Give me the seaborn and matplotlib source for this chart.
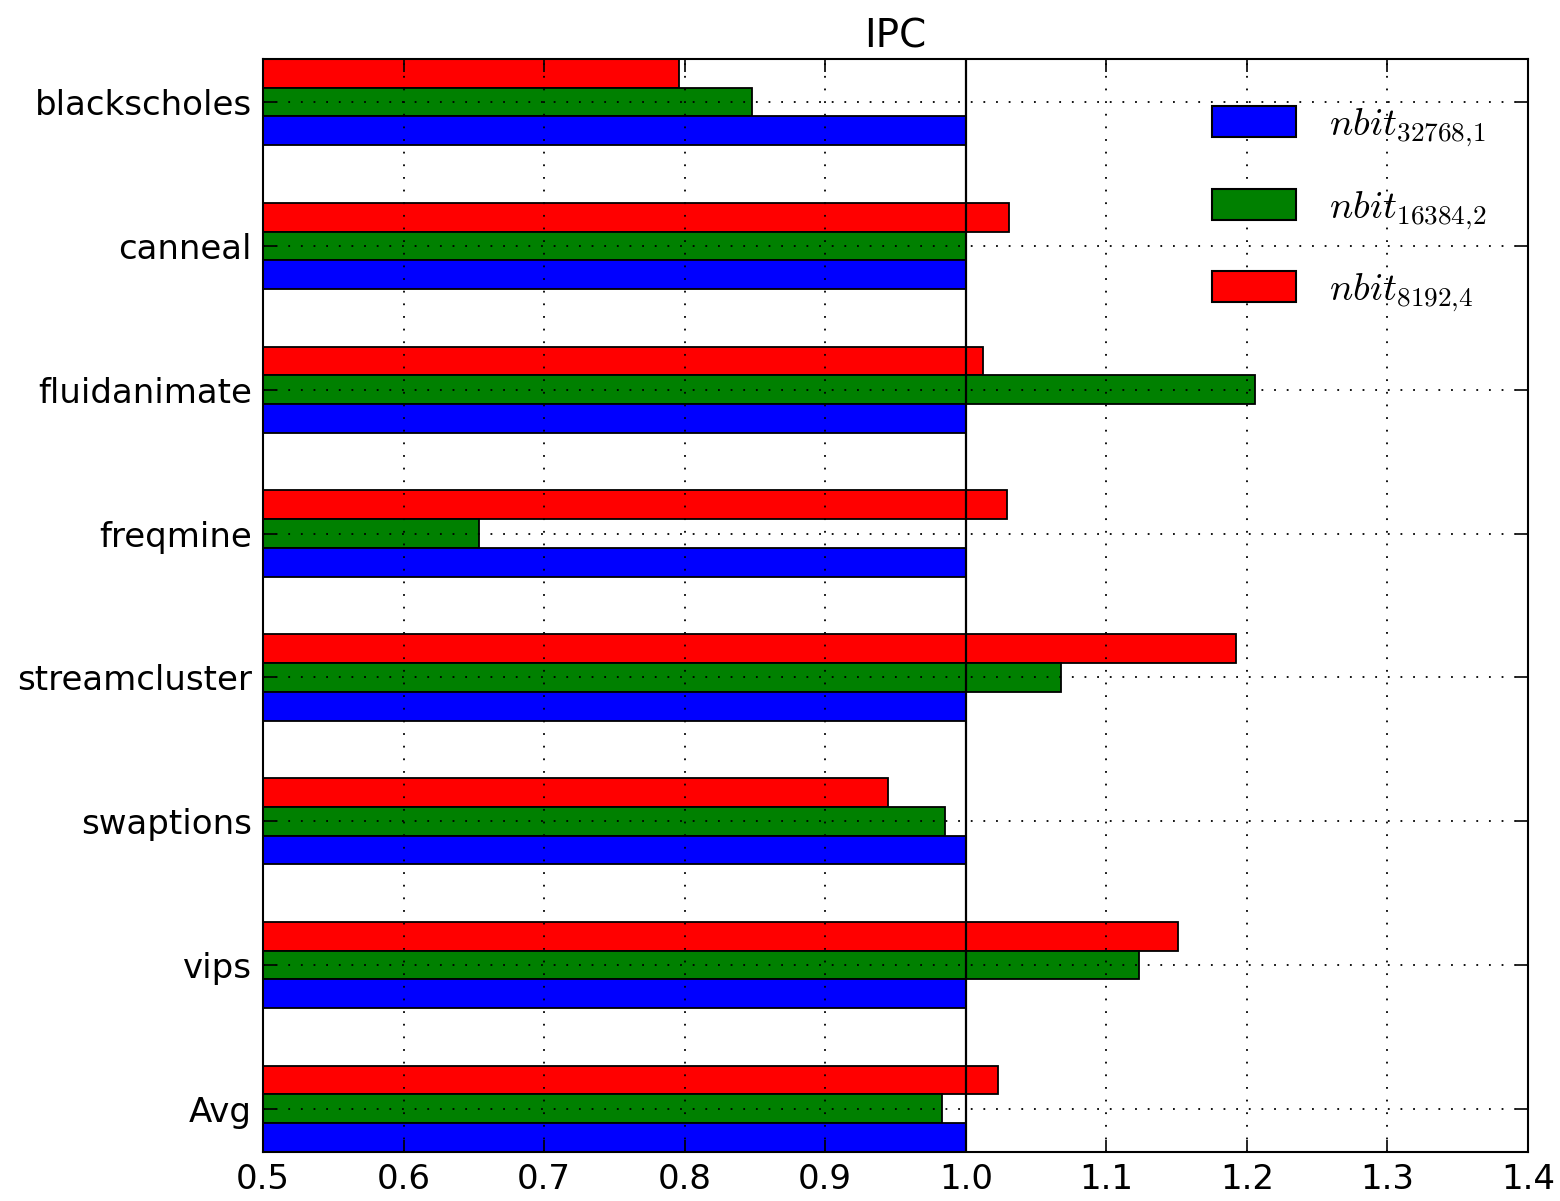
import matplotlib
matplotlib.use("Agg")
import matplotlib.pyplot as plt
import seaborn as sns
import pandas as pd
from matplotlib.patches import Patch

benchmarks = ["blackscholes", "canneal", "fluidanimate", "freqmine",
              "streamcluster", "swaptions", "vips", "Avg"]
ipc_32768_1 = [1.0, 1.0, 1.0, 1.0, 1.0, 1.0, 1.0, 1.0]
ipc_16384_2 = [0.848, 1.0, 1.206, 0.654, 1.068, 0.985, 1.123, 0.983]
ipc_8192_4 = [0.796, 1.031, 1.012, 1.029, 1.192, 0.945, 1.151, 1.023]
series_labels = [r"$nbit_{32768{,}1}$", r"$nbit_{16384{,}2}$", r"$nbit_{8192{,}4}$"]
series_colors = ["#0000ff", "#008000", "#ff0000"]

rows = []
for lab, vals in zip(series_labels, [ipc_32768_1, ipc_16384_2, ipc_8192_4]):
    for b, v in zip(benchmarks, vals):
        rows.append({"bench": b, "ipc": v, "config": lab})
df = pd.DataFrame(rows)

plt.rcParams["font.family"] = ["DejaVu Sans"]
plt.rcParams["mathtext.fontset"] = "cm"

fig = plt.figure(figsize=(15.6, 12.01), dpi=100)
ax = fig.add_axes([0.1686, 0.0408, 0.8109, 0.9101])

hue_order = series_labels[::-1]  # red on top, then green, then blue
pal = dict(zip(series_labels, series_colors))
sns.barplot(data=df, y="bench", x="ipc", hue="config", hue_order=hue_order,
            order=benchmarks, palette=pal, orient="h", width=0.6,
            saturation=1, edgecolor="black", linewidth=1.3, legend=False,
            errorbar=None, ax=ax)

ax.set_xlim(0.5, 1.4)
ax.set_ylim(len(benchmarks) - 0.7, -0.3)
ax.set_xticks([0.5, 0.6, 0.7, 0.8, 0.9, 1.0, 1.1, 1.2, 1.3, 1.4])
ax.set_xticklabels(["0.5", "0.6", "0.7", "0.8", "0.9", "1.0", "1.1", "1.2", "1.3", "1.4"])
ax.set_xlabel("")
ax.set_ylabel("")
ax.axvline(1.0, color="black", linewidth=1.6, zorder=5)
ax.set_axisbelow(False)
ax.grid(True, color="black", linestyle=(0, (1, 6)), linewidth=1.3, zorder=4)

for sp in ax.spines.values():
    sp.set_visible(True)
    sp.set_color("black")
    sp.set_linewidth(1.5)

ax.tick_params(axis="both", direction="in", length=9, width=1.2,
               top=True, right=True, labelsize=24.5, colors="black", pad=8)
ax.tick_params(axis="y", pad=8)
ax.set_title("IPC", fontsize=28, pad=8)

handles = [Patch(facecolor=c, edgecolor="black", linewidth=1.5) for c in series_colors]
ax.legend(handles, series_labels, loc="upper left", bbox_to_anchor=(0.7225, 0.99),
          frameon=False, fontsize=28, handlelength=2.15, handleheight=0.85,
          labelspacing=1.0, handletextpad=0.85)

fig.savefig("out.png", dpi=100)
